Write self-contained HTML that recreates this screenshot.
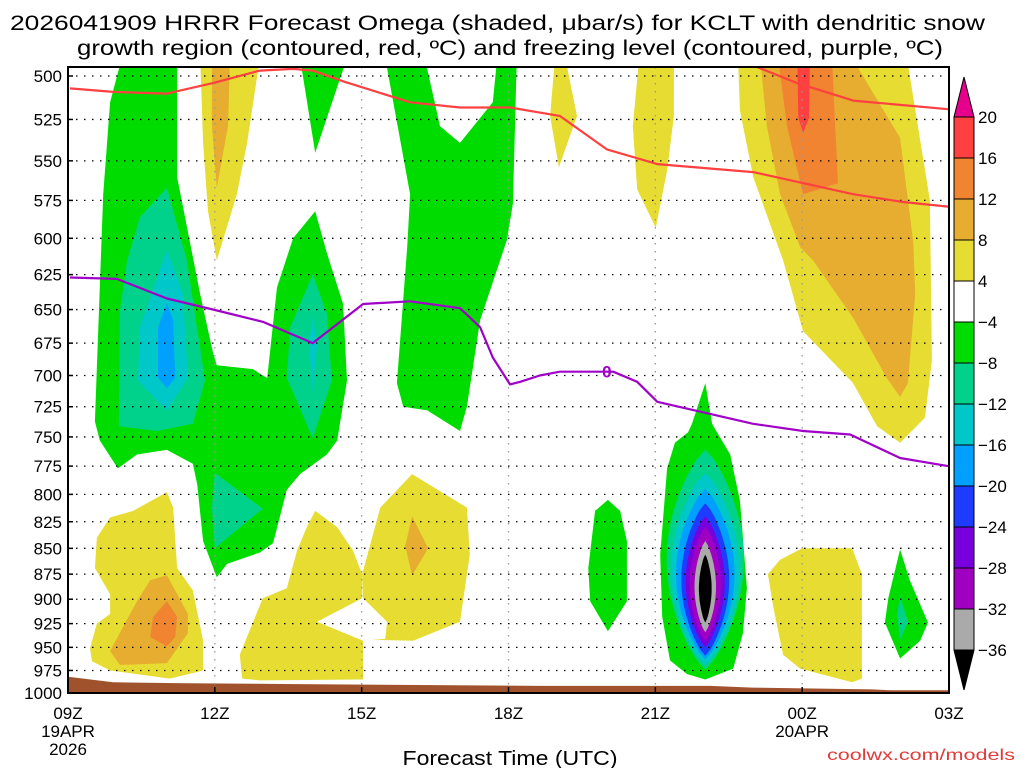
<!DOCTYPE html>
<html><head><meta charset="utf-8"><style>
html,body{margin:0;padding:0;background:#fff;}
svg{display:block;font-family:"Liberation Sans",sans-serif;}
</style></head><body>
<svg id="chart" width="1024" height="768" viewBox="0 0 1024 768" xmlns="http://www.w3.org/2000/svg">
<defs><clipPath id="plotclip"><rect x="68" y="67" width="881" height="626"/></clipPath></defs>
<text x="10" y="30" font-size="21" textLength="975" lengthAdjust="spacingAndGlyphs" fill="#000">2026041909 HRRR Forecast Omega (shaded, μbar/s) for KCLT with dendritic snow</text>
<text x="77" y="55" font-size="21" textLength="866" lengthAdjust="spacingAndGlyphs" fill="#000">growth region (contoured, red, ºC) and freezing level (contoured, purple, ºC)</text>
<g id="fills" clip-path="url(#plotclip)"></g>
<g id="grid"></g>
<g id="lines"></g>
<rect x="68" y="67" width="881" height="626" fill="none" stroke="#000" stroke-width="2"/>
<g id="yaxis"></g>
<g id="xaxis"></g>
<text x="510" y="765" font-size="20" text-anchor="middle" textLength="215" lengthAdjust="spacingAndGlyphs">Forecast Time (UTC)</text>
<text x="1015" y="760" font-size="16" text-anchor="end" fill="#e03a3a" textLength="188" lengthAdjust="spacingAndGlyphs">coolwx.com/models</text>
<g id="cbar"></g>
</svg>
<script>
// ---- axis data ----
const pressureTicks = [500,525,550,575,600,625,650,675,700,725,750,775,800,825,850,875,900,925,950,975,1000];
const timeTickHours = [0,3,6,9,12,15,18];
const timeTickLabels = ["09Z","12Z","15Z","18Z","21Z","00Z","03Z"];
const cbarLevels = ["20","16","12","8","4","-4","-8","-12","-16","-20","-24","-28","-32","-36"];
const cbarColors = ["#ff4040","#f08430","#e6ad30","#e6dc32","#ffffff","#00dc00","#00d28c","#00c8c8","#00a0ff","#1e3cff","#7800dc","#a000c0","#aaaaaa"];
// ---- shaded polygons [hour since 09Z, hPa] ----
const greenWest = [[1.10,490],[2.23,490],[2.23,560],[2.70,639],[2.96,682],[3.04,692],[3.78,695],[3.98,700],[4.07,702],[4.27,634],[4.60,600],[5.05,582],[5.29,610],[5.62,646],[5.70,704],[5.50,753],[5.29,765],[4.74,782],[4.47,796],[4.19,845],[3.92,854],[3.25,865],[3.04,878],[2.76,843],[2.64,791],[2.55,773],[2.02,761],[1.41,765],[1.02,777],[0.65,753],[0.55,737],[0.72,571],[0.86,515]];
const greenTopMid = [[4.74,490],[5.70,490],[5.05,545]];
const greenCenter = [[6.48,490],[7.29,490],[7.60,529],[8.01,539],[8.68,515],[8.77,490],[9.17,490],[9.09,577],[8.97,601],[8.42,658],[8.15,725],[8.01,745],[7.34,728],[6.85,725],[6.72,706],[6.93,606],[6.99,571]];
const tealWest = [[2.02,567],[1.47,586],[1.21,615],[1.06,651],[1.04,741],[1.82,745],[2.55,739],[2.80,704],[2.43,615]];
const cyanWest = [[2.02,608],[1.47,663],[1.43,704],[2.02,728],[2.45,702],[2.35,639]];
const blueWest = [[2.02,645],[1.84,663],[1.84,702],[2.02,710],[2.19,702],[2.15,658]];
const tealMid = [[5.0,625],[4.54,663],[4.47,702],[5.0,751],[5.39,704],[5.29,653]];
const cyanMid = [[5.0,656],[4.92,675],[5.0,713],[5.09,675]];
const tealSouth = [[3.0,781],[3.98,813],[3.0,850],[2.94,812]];
const yellowTopWest = [[2.70,490],[3.92,490],[3.66,539],[3.45,571],[3.04,615],[2.86,582],[2.76,539]];
const orangeTopWest = [[2.94,490],[3.31,490],[3.27,529],[3.04,567],[2.94,529]];
const yellowLowWest = [[2.02,798],[2.15,812],[2.23,869],[2.55,891],[2.76,943],[2.76,975],[2.08,984],[0.86,975],[0.49,965],[0.45,951],[0.59,925],[0.86,915],[0.86,895],[0.55,869],[0.59,840],[0.86,821],[1.33,815]];
const orangeLowWest = [[2.02,876],[1.68,881],[1.41,902],[0.86,954],[1.06,969],[2.02,967],[2.45,935],[2.45,915]];
const redLowWest = [[2.02,902],[1.74,918],[1.68,939],[2.02,949],[2.19,939],[2.23,918]];
const yellowLowMid = [[5.05,815],[5.50,830],[5.82,852],[6.01,875],[6.01,899],[5.09,923],[6.03,943],[6.03,985],[3.92,986],[3.56,984],[3.51,958],[3.98,899],[4.47,889],[4.68,852],[4.88,830]];
const yellowLowEast15 = [[7.03,782],[8.15,812],[8.21,856],[8.01,923],[7.05,943],[6.21,942],[6.48,941],[6.52,923],[6.03,899],[6.01,875],[6.38,812]];
const orangeDiamond = [[7.03,820],[7.36,850],[7.03,876],[6.89,848]];
const greenSmall20Z = [[11.03,805],[11.28,815],[11.42,843],[11.42,902],[11.03,933],[10.67,902],[10.63,869],[10.77,815]];
const greenColumn = [[13.02,706],[13.16,739],[13.26,746],[13.53,765],[13.73,806],[13.87,889],[13.79,935],[13.59,973],[13.02,985],[12.65,979],[12.30,964],[12.14,918],[12.10,856],[12.24,777],[12.40,755],[12.67,746],[12.75,739]];
// nested cores
const coreCenterHour = 13.02;
const coreTops = [761,781,795,808,820,830,843,856];
const coreBottoms = [974,969,963,959,950,943,934,924];
const coreHalfWidths = [0.79,0.70,0.60,0.49,0.40,0.32,0.22,0.13];
const coreColors = ["#00d28c","#00c8c8","#00a0ff","#1e3cff","#7800dc","#a000c0","#aaaaaa","#000000"];
const yellowLowEast = [[15.0,850],[16.02,850],[16.22,875],[16.22,984],[16.02,988],[14.96,973],[14.61,958],[14.41,908],[14.30,875],[14.55,861]];
const greenEast = [[17.0,851],[17.20,881],[17.57,924],[17.41,943],[17.0,962],[16.69,924],[16.76,899]];
const tealEast = [[17.0,897],[17.16,923],[17.0,942],[16.94,915]];
const yellowTopSmall = [[9.95,490],[10.16,490],[10.40,523],[10.03,554],[9.85,523]];
const yellowTopCol = [[11.67,490],[12.38,490],[12.38,523],[12.24,556],[12.01,593],[11.63,568],[11.54,529]];
const yellowNE = [[13.69,490],[17.14,490],[17.61,575],[17.65,688],[17.51,734],[17.0,755],[16.53,741],[16.04,706],[15.02,666],[14.61,615],[14.0,560],[13.73,520]];
const orangeNE = [[14.14,490],[16.02,490],[17.0,536],[17.27,603],[17.31,639],[17.16,706],[17.0,717],[16.73,702],[16.04,656],[15.22,615],[14.96,606],[14.55,571],[14.28,529]];
const darkOrangeNE = [[14.51,490],[15.61,490],[15.73,564],[15.02,571],[14.69,529]];
const redNE = [[14.90,490],[15.16,490],[15.14,524],[15.02,533],[14.92,524]];
const ground = [[0,982],[0.92,988],[2.43,989],[4.68,990],[9.64,992],[13.12,992],[13.98,994],[16.43,996],[16.84,997],[18,997],[18,1000],[0,1000]];
// ---- contour lines ----
const dgzLine = [[0.04,507],[0.92,509],[2.02,510],[2.96,504],[3.92,497],[4.60,496],[5.0,497],[5.62,503],[6.99,515],[8.01,518],[9.03,518],[9.85,522],[10.05,523],[11.01,543],[12.04,552],[14.0,557],[16.04,571],[17.06,576],[17.98,579]];
const dgzLineUpper = [[14.08,495],[14.90,504],[16.04,514],[17.98,519]];
const freezingLine = [[0.04,627],[1.0,628],[2.02,642],[2.96,650],[3.98,659],[5.0,675],[6.03,646],[6.99,644],[8.01,649],[8.42,663],[8.68,686],[9.03,707],[9.24,705],[9.64,700],[10.05,697],[10.91,697],[11.14,697],[11.63,705],[12.04,721],[14.0,739],[15.02,745],[15.98,748],[17.0,768],[17.98,775]];
const freezingLabel = [11.01,697,"0"];

const NS="http://www.w3.org/2000/svg";
const X0=68,X1=949,Y0=76,Y1=693;
function xs(h){return X0+h*(X1-X0)/18;}
function ys(p){return Y0+(Y1-Y0)*Math.log(p/500)/Math.log(2);}
function mk(tag,attrs,parent){const e=document.createElementNS(NS,tag);for(const k in attrs)e.setAttribute(k,attrs[k]);parent.appendChild(e);return e;}
function pts(arr){return arr.map(d=>xs(d[0]).toFixed(1)+","+ys(d[1]).toFixed(1)).join(" ");}
const fills=document.getElementById("fills");
function poly(arr,color,name){const e=mk("polygon",{points:pts(arr),fill:color},fills);

}
poly(greenWest,"#00dc00","omega-green-west");
poly(greenTopMid,"#00dc00","omega-green-top-mid");
poly(greenCenter,"#00dc00","omega-green-center");
poly(tealWest,"#00d28c","omega-teal-west");
poly(cyanWest,"#00c8c8","omega-cyan-west");
poly(blueWest,"#00a0ff","omega-blue-west");
poly(tealMid,"#00d28c","omega-teal-mid");
poly(cyanMid,"#00c8c8","omega-cyan-mid");
poly(tealSouth,"#00d28c","omega-teal-south");
poly(yellowTopWest,"#e6dc32","omega-yellow-top-west");
poly(orangeTopWest,"#e6ad30","omega-orange-top-west");
poly(yellowLowWest,"#e6dc32","omega-yellow-low-west");
poly(orangeLowWest,"#e6ad30","omega-orange-low-west");
poly(redLowWest,"#f08430","omega-darkorange-low-west");
poly(yellowLowMid,"#e6dc32","omega-yellow-low-mid");
poly(yellowLowEast15,"#e6dc32","omega-yellow-low-15z");
poly(orangeDiamond,"#e6ad30","omega-orange-diamond");
poly(greenSmall20Z,"#00dc00","omega-green-20z");
poly(greenColumn,"#00dc00","omega-green-column");
coreTops.forEach((top,i)=>{
  const yt=ys(top),yb=ys(coreBottoms[i]),hw=coreHalfWidths[i]*(X1-X0)/18,cx=xs(coreCenterHour),pp=[];
  const N=24;
  for(let k=0;k<=N;k++){const t=k/N;pp.push((cx+hw*Math.pow(Math.sin(Math.PI*t),0.75)).toFixed(1)+","+(yt+(yb-yt)*t).toFixed(1));}
  for(let k=N-1;k>0;k--){const t=k/N;pp.push((cx-hw*Math.pow(Math.sin(Math.PI*t),0.75)).toFixed(1)+","+(yt+(yb-yt)*t).toFixed(1));}
  const e=mk("polygon",{points:pp.join(" "),fill:coreColors[i]},fills);
  
  
});
poly(yellowLowEast,"#e6dc32","omega-yellow-low-east");
poly(greenEast,"#00dc00","omega-green-east");
poly(tealEast,"#00d28c","omega-teal-east");
poly(yellowTopSmall,"#e6dc32","omega-yellow-top-small");
poly(yellowTopCol,"#e6dc32","omega-yellow-top-column");
poly(yellowNE,"#e6dc32","omega-yellow-ne");
poly(orangeNE,"#e6ad30","omega-orange-ne");
poly(darkOrangeNE,"#f08430","omega-darkorange-ne");
poly(redNE,"#ff4040","omega-red-ne");
poly(ground,"#a0522d","terrain-ground");

// grid
const grid=document.getElementById("grid");
pressureTicks.forEach(p=>{
  const g=mk("line",{x1:X0,x2:X1,y1:ys(p),y2:ys(p),stroke:"#000","stroke-width":1.3,"stroke-dasharray":"1.5 6.5"},grid);
  
  
});
timeTickHours.slice(1,-1).forEach(h=>{
  const g=mk("line",{x1:xs(h),x2:xs(h),y1:67,y2:Y1,stroke:"#999","stroke-width":1.3,"stroke-dasharray":"1.5 6.5"},grid);
  
  
});
// lines
const lines=document.getElementById("lines");
function pl(arr,color,name){const e=mk("polyline",{points:pts(arr),fill:"none",stroke:color,"stroke-width":2.2,"stroke-linejoin":"round"},lines);

}
pl(dgzLine,"#ff4040","dgz-contour-lower");
pl(dgzLineUpper,"#ff4040","dgz-contour-upper");
pl(freezingLine,"#a000c8","freezing-level-contour");
const fl=mk("text",{x:xs(freezingLabel[0]),y:ys(freezingLabel[1])+6,"font-size":17,"font-weight":"bold","text-anchor":"middle",fill:"#a000c8"},lines);
fl.textContent=freezingLabel[2];


// y axis
const ya=document.getElementById("yaxis");
pressureTicks.forEach(p=>{
  const t=mk("text",{x:62,y:ys(p)+6,"font-size":17,"text-anchor":"end",fill:"#000"},ya);
  t.textContent=p;
  
  
  const k=mk("line",{x1:X0,x2:X0+5,y1:ys(p),y2:ys(p),stroke:"#000","stroke-width":1.5},ya);
  
  
});
// x axis
const xa=document.getElementById("xaxis");
timeTickHours.forEach((h,i)=>{
  const t=mk("text",{x:xs(h),y:719,"font-size":17,"text-anchor":"middle",fill:"#000"},xa);
  t.textContent=timeTickLabels[i];
  
  
  const k=mk("line",{x1:xs(h),x2:xs(h),y1:Y1,y2:Y1-6,stroke:"#000","stroke-width":1.5},xa);
  
  
});
const d1=mk("text",{x:xs(0),y:737,"font-size":17,"text-anchor":"middle"},xa);d1.textContent="19APR";


const d2=mk("text",{x:xs(0),y:755,"font-size":17,"text-anchor":"middle"},xa);d2.textContent="2026";


const d3=mk("text",{x:xs(15),y:737,"font-size":17,"text-anchor":"middle"},xa);d3.textContent="20APR";


// colorbar
const cb=document.getElementById("cbar");
const CX=954,CW=20,CT=117,CS=41;
const tri1=mk("polygon",{points:`${CX},${CT} ${CX+CW},${CT} ${CX+CW/2},${CT-40}`,fill:"#e6008c",stroke:"#000","stroke-width":1},cb);


cbarColors.forEach((c,i)=>{
  const r=mk("rect",{x:CX,y:CT+i*CS,width:CW,height:CS,fill:c,stroke:"#000","stroke-width":1},cb);
  
  
});
const yb=CT+cbarColors.length*CS;
const tri2=mk("polygon",{points:`${CX},${yb} ${CX+CW},${yb} ${CX+CW/2},${yb+40}`,fill:"#000",stroke:"#000","stroke-width":1},cb);


cbarLevels.forEach((l,i)=>{
  const t=mk("text",{x:CX+CW+4,y:CT+i*CS+6,"font-size":17,fill:"#000"},cb);
  t.textContent=l.replace("-","−");
  
  
});
</script>
</body></html>
